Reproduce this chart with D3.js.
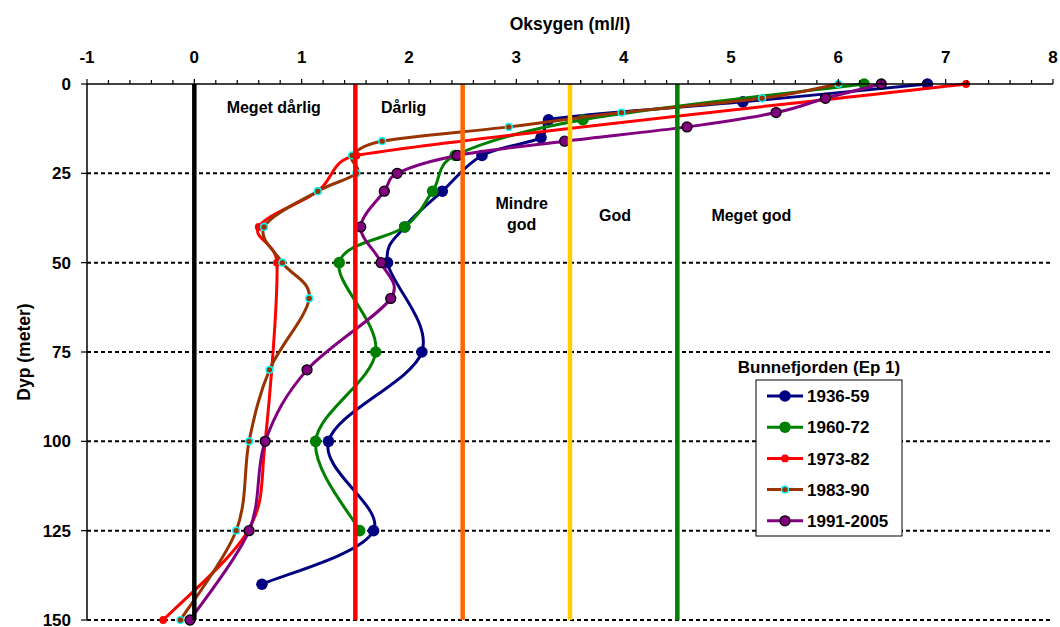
<!DOCTYPE html>
<html>
<head>
<meta charset="utf-8">
<script src="https://cdn.jsdelivr.net/npm/d3@7"></script>
<style>
  html, body { margin: 0; padding: 0; background: #fff; }
  svg text { font-family: "Liberation Sans", Arial, sans-serif; font-weight: bold; fill: #000; }
</style>
</head>
<body>
<svg id="chart" width="1060" height="627"></svg>
<script>
// ---------------- data ----------------
const seriesNames = ["1936-59", "1960-72", "1973-82", "1983-90", "1991-2005"];

const depth1936 = [0, 5, 10, 15, 20, 30, 40, 50, 75, 100, 125, 140];
const oxy1936   = [6.83, 5.11, 3.30, 3.23, 2.68, 2.31, 1.96, 1.80, 2.12, 1.25, 1.67, 0.63];

const depth1960 = [0, 10, 20, 30, 40, 50, 75, 100, 125];
const oxy1960   = [6.24, 3.62, 2.43, 2.22, 1.96, 1.35, 1.69, 1.13, 1.54];

const depth1973 = [0, 20, 30, 40, 50, 100, 125, 150];
const oxy1973   = [7.19, 1.51, 1.15, 0.60, 0.77, 0.66, 0.50, -0.29];

const depth1983 = [0, 4, 8, 12, 16, 20, 25, 30, 40, 50, 60, 80, 100, 125, 150];
const oxy1983   = [6.00, 5.29, 3.98, 2.93, 1.75, 1.47, 1.51, 1.15, 0.65, 0.82, 1.07, 0.70, 0.51, 0.39, -0.13];

const depth1991 = [0, 4, 8, 12, 16, 20, 25, 30, 40, 50, 60, 80, 100, 125, 150];
const oxy1991   = [6.40, 5.88, 5.42, 4.59, 3.45, 2.45, 1.89, 1.77, 1.55, 1.74, 1.83, 1.05, 0.66, 0.51, -0.04];

const thresholdValues = [0, 1.5, 2.5, 3.5, 4.5];
const classLabels = ["Meget dårlig", "Dårlig", "Mindre god", "God", "Meget god"];

const xTickValues = [-1, 0, 1, 2, 3, 4, 5, 6, 7, 8];
const yTickValues = [0, 25, 50, 75, 100, 125, 150];

const xTitle = "Oksygen (ml/l)";
const yTitle = "Dyp (meter)";
const legendTitle = "Bunnefjorden (Ep 1)";

// ---------------- styles ----------------
const seriesStyle = [
  { color: "#000080", r: 5.8, fill: "#000080", stroke: "none", sw: 0 },
  { color: "#008000", r: 5.8, fill: "#008000", stroke: "none", sw: 0 },
  { color: "#FF0000", r: 3.9, fill: "#FF0000", stroke: "none", sw: 0 },
  { color: "#993300", r: 3.4, fill: "#993300", stroke: "#00FFFF", sw: 1.4 },
  { color: "#800080", r: 5.0, fill: "#800080", stroke: "#000000", sw: 1.3 }
];
const thresholdColors = ["#000000", "#FF0000", "#FF6600", "#FFCC00", "#008000"];

const depths = [depth1936, depth1960, depth1973, depth1983, depth1991];
const oxys = [oxy1936, oxy1960, oxy1973, oxy1983, oxy1991];
const series = seriesNames.map((name, i) => ({
  name, style: seriesStyle[i],
  pts: depths[i].map((d, j) => ({ depth: d, oxy: oxys[i][j] }))
}));

// ---------------- layout ----------------
const pLeft = 87, pRight = 1053, pTop = 84, pBottom = 620;
const x = d3.scaleLinear().domain([-1, 8]).range([pLeft, pRight]);
const y = d3.scaleLinear().domain([0, 150]).range([pTop, pBottom]);

const svg = d3.select("#chart");

// spreadsheet-style smoothing curve for d3.line: Catmull-Rom tangents,
// with control arms limited relative to the segment length
function smoothCurve(context) {
  const K = 0.5;
  let pts;
  return {
    areaStart() {}, areaEnd() {},
    lineStart() { pts = []; },
    point(px, py) { pts.push([+px, +py]); },
    lineEnd() {
      const n = pts.length;
      if (!n) return;
      context.moveTo(pts[0][0], pts[0][1]);
      if (n === 1) return;
      const tan = pts.map((p, i) => {
        const a = pts[Math.max(0, i - 1)], b = pts[Math.min(n - 1, i + 1)];
        return [(b[0] - a[0]) / 6, (b[1] - a[1]) / 6];
      });
      for (let i = 0; i < n - 1; i++) {
        const p0 = pts[i], p1 = pts[i + 1];
        const L = Math.hypot(p1[0] - p0[0], p1[1] - p0[1]);
        const lim = t => {
          const m = Math.hypot(t[0], t[1]);
          const s = m > K * L ? (K * L) / m : 1;
          return [t[0] * s, t[1] * s];
        };
        const t0 = lim(tan[i]), t1 = lim(tan[i + 1]);
        context.bezierCurveTo(p0[0] + t0[0], p0[1] + t0[1], p1[0] - t1[0], p1[1] - t1[1], p1[0], p1[1]);
      }
    }
  };
}

// horizontal dotted gridlines
svg.append("g").selectAll("line")
  .data(yTickValues.filter(v => v > 0))
  .join("line")
  .attr("x1", pLeft).attr("x2", pRight)
  .attr("y1", d => y(d)).attr("y2", d => y(d))
  .attr("stroke", "#000").attr("stroke-width", 2)
  .attr("stroke-dasharray", "4,3");

// series
const line = d3.line()
  .x(d => x(d.oxy)).y(d => y(d.depth))
  .curve(smoothCurve);

const gS = svg.append("g");
series.forEach(s => {
  gS.append("path")
    .attr("d", line(s.pts))
    .attr("fill", "none")
    .attr("stroke", s.style.color)
    .attr("stroke-width", 3)
    .attr("stroke-linejoin", "round");
  gS.append("g").selectAll("circle")
    .data(s.pts)
    .join("circle")
    .attr("cx", d => x(d.oxy)).attr("cy", d => y(d.depth))
    .attr("r", s.style.r)
    .attr("fill", s.style.fill)
    .attr("stroke", s.style.stroke)
    .attr("stroke-width", s.style.sw);
});

// threshold vertical lines
svg.append("g").selectAll("line")
  .data(thresholdValues)
  .join("line")
  .attr("x1", d => x(d)).attr("x2", d => x(d))
  .attr("y1", pTop).attr("y2", pBottom)
  .attr("stroke", (d, i) => thresholdColors[i])
  .attr("stroke-width", 4.5);

// x axis (top)
const minorTicks = d3.range(-1, 8.0001, 0.2).map(v => Math.round(v * 10) / 10);
const gx = svg.append("g").attr("transform", `translate(0,${pTop})`);
gx.append("line").attr("x1", pLeft).attr("x2", pRight).attr("y1", 0).attr("y2", 0)
  .attr("stroke", "#000").attr("stroke-width", 1.5);
gx.selectAll("line.minor")
  .data(minorTicks)
  .join("line").attr("class", "minor")
  .attr("x1", d => x(d)).attr("x2", d => x(d))
  .attr("y1", 0).attr("y2", d => Number.isInteger(d) ? -5 : -4)
  .attr("stroke", "#000").attr("stroke-width", 1.2);
gx.selectAll("text")
  .data(xTickValues)
  .join("text")
  .attr("x", d => x(d)).attr("y", -21)
  .attr("text-anchor", "middle")
  .attr("font-size", 17)
  .text(d => d);

// y axis (left)
const gy = svg.append("g").attr("transform", `translate(${pLeft},0)`);
gy.append("line").attr("x1", 0).attr("x2", 0).attr("y1", pTop).attr("y2", pBottom)
  .attr("stroke", "#000").attr("stroke-width", 1.5);
gy.selectAll("line.tick")
  .data(yTickValues)
  .join("line").attr("class", "tick")
  .attr("x1", -6).attr("x2", 0)
  .attr("y1", d => y(d)).attr("y2", d => y(d))
  .attr("stroke", "#000").attr("stroke-width", 1.2);
gy.selectAll("text")
  .data(yTickValues)
  .join("text")
  .attr("x", -16).attr("y", d => y(d))
  .attr("dy", "0.36em")
  .attr("text-anchor", "end")
  .attr("font-size", 17)
  .text(d => d);

// axis titles
svg.append("text")
  .attr("x", (pLeft + pRight) / 2).attr("y", 30)
  .attr("text-anchor", "middle").attr("font-size", 17.5)
  .text(xTitle);
svg.append("text")
  .attr("transform", `translate(30,${(pTop + pBottom) / 2}) rotate(-90)`)
  .attr("text-anchor", "middle").attr("font-size", 17.5)
  .text(yTitle);

// class labels (positioned in data units)
const labelPos = [
  { v: 0.74, d: 8.2, lines: [classLabels[0]] },
  { v: 1.95, d: 8.2, lines: [classLabels[1]] },
  { v: 3.05, d: 35.0, lines: ["Mindre", "god"] },
  { v: 3.92, d: 38.2, lines: [classLabels[3]] },
  { v: 5.19, d: 38.2, lines: [classLabels[4]] }
];
labelPos.forEach(l => {
  const t = svg.append("text")
    .attr("x", x(l.v)).attr("y", y(l.d))
    .attr("text-anchor", "middle").attr("font-size", 16);
  l.lines.forEach((ln, i) => {
    t.append("tspan").attr("x", x(l.v)).attr("dy", i === 0 ? 0 : 20.7).text(ln);
  });
});

// legend
const lg = svg.append("g");
lg.append("text")
  .attr("x", 819).attr("y", 373)
  .attr("text-anchor", "middle").attr("font-size", 17)
  .text(legendTitle);
lg.append("rect")
  .attr("x", 756).attr("y", 380).attr("width", 146).attr("height", 156)
  .attr("fill", "#fff").attr("stroke", "#000").attr("stroke-width", 1);
series.forEach((s, i) => {
  const cy = 396 + i * 31.2;
  lg.append("line")
    .attr("x1", 767).attr("x2", 803).attr("y1", cy).attr("y2", cy)
    .attr("stroke", s.style.color).attr("stroke-width", 3);
  lg.append("circle")
    .attr("cx", 785).attr("cy", cy).attr("r", s.style.r)
    .attr("fill", s.style.fill).attr("stroke", s.style.stroke)
    .attr("stroke-width", s.style.sw);
  lg.append("text")
    .attr("x", 807).attr("y", cy).attr("dy", "0.36em")
    .attr("font-size", 17)
    .text(s.name);
});
</script>
</body>
</html>
